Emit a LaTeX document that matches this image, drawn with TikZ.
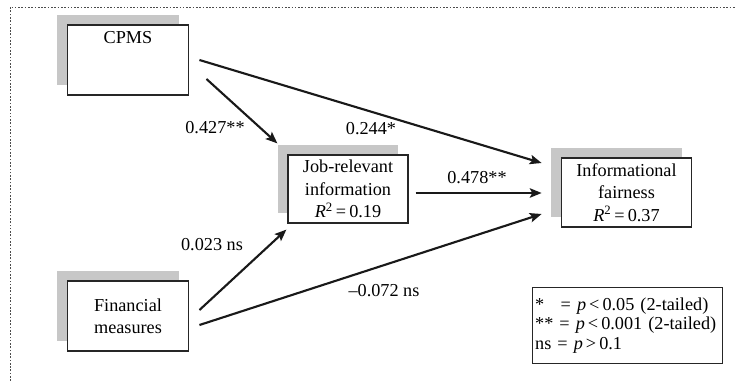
\documentclass[tikz,border=0pt]{standalone}
\usepackage{fontspec}
\setmainfont{Liberation Serif}
\usetikzlibrary{arrows.meta, shadows}

\begin{document}
\begin{tikzpicture}[
    x=0.85pt, y=-0.85pt,
    >={Stealth[length=10pt, width=8pt, inset=2pt]},
    every node/.style={font=\fontsize{15.5}{19}\selectfont},
    var/.style={draw=black!85, fill=white, line width=1pt,
                general shadow={shadow xshift=-8.5pt, shadow yshift=8.5pt, fill=black!22},
                align=center, inner sep=0pt,
                minimum width=103.5pt, minimum height=59.5pt},
    key/.style={draw=black!85, line width=1pt, align=left,
                text width=157pt, inner xsep=2.5pt, minimum height=64pt,
                font=\fontsize{15.5}{16.5}\selectfont},
    coef/.style={inner sep=1pt},
    arr/.style={->, line width=1.8pt, black!90},
    frame/.style={draw=black!70, line width=0.8pt, dash pattern=on 1.4pt off 1.4pt},
]
\useasboundingbox (0,0) rectangle (736,381);
\draw[frame] (10,381) -- (10,7) -- (736,7);

\node[var] (cpms) at (128,60)    {CPMS\\~\\~};
\node[var] (fin)  at (128,316)   {Financial\\measures};
\node[var, minimum width=102pt, minimum height=57.8pt]
           (job)  at (348,189)   {Job-relevant\\information\\\textit{R}\textsuperscript{2}\,=\,0.19};
\node[var, minimum width=111pt, minimum height=58.6pt]
           (info) at (626.5,192.5) {Informational\\fairness\\\textit{R}\textsuperscript{2}\,=\,0.37};

\node[key] (sig) at (627.5,325.5)
    {*\hspace{0.9em}= \textit{p}\,<\,0.05 (2-tailed)\\
     {**} = \textit{p}\,<\,0.001 (2-tailed)\\
     ns = \textit{p}\,>\,0.1};

\draw[arr] ([shift={(10,0)}]cpms.east) -- ([shift={(-19,-29.5)}]info.west);
\draw[arr] ([shift={(17,19)}]cpms.east) -- ([shift={(-10,-11)}]job.north west);
\draw[arr] ([shift={(7,4)}]job.east) -- ([shift={(-19,0.5)}]info.west);
\draw[arr] ([shift={(10,-6)}]fin.east) -- ([shift={(-1,6)}]job.south west);
\draw[arr] ([shift={(10,9)}]fin.east) -- ([shift={(-19,21.5)}]info.west);

\node[coef] (c1) at (371,129) {0.244*};
\node[coef] (c2) at (215,128) {0.427**};
\node[coef] (c3) at (477,178) {0.478**};
\node[coef] (c4) at (212,245) {0.023 ns};
\node[coef] (c5) at (384,291) {–0.072 ns};
\end{tikzpicture}
\end{document}
